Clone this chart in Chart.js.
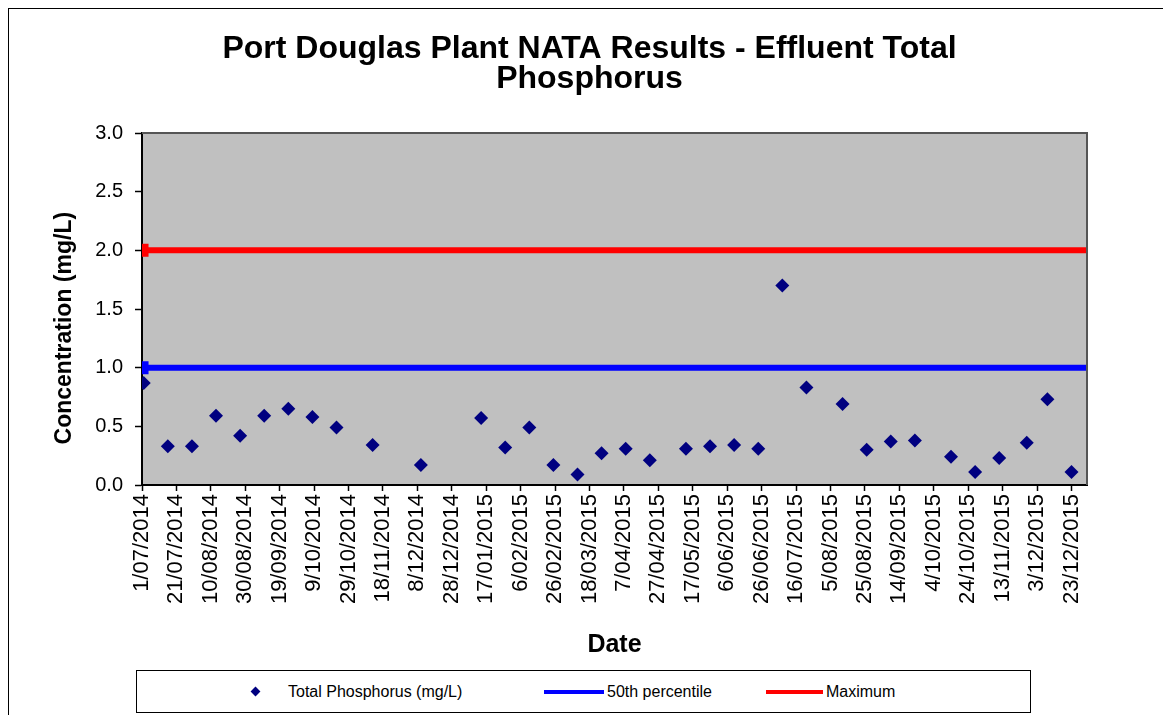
<!DOCTYPE html>
<html>
<head>
<meta charset="utf-8">
<script src="https://cdn.jsdelivr.net/npm/chart.js@4.4.1/dist/chart.umd.min.js"></script>
<style>
    html, body { margin: 0; padding: 0; background: #fff; overflow: hidden; }
    body { width: 1163px; height: 715px; position: relative; font-family: "Liberation Sans", Arial, sans-serif; }
    #frame { position: absolute; left: 8px; top: 8px; width: 1300px; height: 900px; border-left: 1px solid #000; border-top: 1px solid #000; }
    #chart { position: absolute; left: 0; top: 0; }
    #legend { position: absolute; left: 136px; top: 670px; width: 893px; height: 41px; border: 1px solid #000; background: #fff; font-size: 16px; color: #000; }
    .item { position: absolute; top: 0; height: 41px; line-height: 41px; white-space: nowrap; }
    .diamond { position: absolute; width: 7px; height: 7px; background: #000080; transform: rotate(45deg); top: 17px; }
    .swatch { position: absolute; height: 4px; top: 19px; }
</style>
</head>
<body>
<div id="frame"></div>
<canvas id="chart" width="1163" height="715"></canvas>
<div id="legend">
    <span class="diamond" style="left:115px"></span>
    <span class="item" style="left:151px">Total Phosphorus (mg/L)</span>
    <span class="swatch" style="left:407px;width:60px;background:#0000ff"></span>
    <span class="item" style="left:470px">50th percentile</span>
    <span class="swatch" style="left:629px;width:57px;background:#ff0000"></span>
    <span class="item" style="left:689px">Maximum</span>
</div>
<script>
// sample dates and results
const sampleDates = [
    '2/07/2014', '16/07/2014', '30/07/2014', '13/08/2014', '27/08/2014', '10/09/2014',
    '24/09/2014', '8/10/2014', '22/10/2014', '12/11/2014', '10/12/2014', '14/01/2015',
    '28/01/2015', '11/02/2015', '25/02/2015', '11/03/2015', '25/03/2015', '8/04/2015',
    '22/04/2015', '13/05/2015', '27/05/2015', '10/06/2015', '24/06/2015', '8/07/2015',
    '22/07/2015', '12/08/2015', '26/08/2015', '9/09/2015', '23/09/2015', '14/10/2015',
    '28/10/2015', '11/11/2015', '27/11/2015', '9/12/2015', '23/12/2015'
];
const phosphorus = [
    0.87, 0.33, 0.33, 0.59, 0.42, 0.59,
    0.65, 0.58, 0.49, 0.34, 0.17, 0.57,
    0.32, 0.49, 0.17, 0.09, 0.27, 0.31,
    0.21, 0.31, 0.33, 0.34, 0.31, 1.70,
    0.83, 0.69, 0.30, 0.37, 0.38, 0.24,
    0.11, 0.23, 0.36, 0.73, 0.11
];
const percentile50 = 1.0;
const maximumLimit = 2.0;

const xTickLabels = [
    '1/07/2014', '21/07/2014', '10/08/2014', '30/08/2014', '19/09/2014', '9/10/2014',
    '29/10/2014', '18/11/2014', '8/12/2014', '28/12/2014', '17/01/2015', '6/02/2015',
    '26/02/2015', '18/03/2015', '7/04/2015', '27/04/2015', '17/05/2015', '6/06/2015',
    '26/06/2015', '16/07/2015', '5/08/2015', '25/08/2015', '14/09/2015', '4/10/2015',
    '24/10/2015', '13/11/2015', '3/12/2015', '23/12/2015'
];
const xStart = '1/07/2014';
const xEnd = '1/01/2016';
const yTicks = [0, 0.5, 1.0, 1.5, 2.0, 2.5, 3.0];

const DAY = 86400000;
function toMs(s) {
    let p = s.split('/');
    return Date.UTC(+p[2], +p[1] - 1, +p[0]);
}
const baseMs = toMs(xStart);
function toDay(s) { return Math.round((toMs(s) - baseMs) / DAY); }
function dayLabel(v) {
    let d = new Date(baseMs + v * DAY);
    let mm = String(d.getUTCMonth() + 1).padStart(2, '0');
    return d.getUTCDate() + '/' + mm + '/' + d.getUTCFullYear();
}

const xMax = toDay(xEnd);
const points = sampleDates.map((s, i) => ({ x: toDay(s), y: phosphorus[i] }));
const tickDays = xTickLabels.map(toDay);

const font = '"Liberation Sans", Arial, sans-serif';
Chart.defaults.color = '#000';
Chart.defaults.font.family = font;

const plotArea = {
    id: 'plotArea',
    beforeDraw(chart) {
        let a = chart.chartArea, c = chart.ctx;
        c.save();
        c.fillStyle = '#c0c0c0';
        c.fillRect(a.left, a.top, a.right - a.left, a.bottom - a.top);
        c.restore();
    },
    afterDraw(chart) {
        let a = chart.chartArea, c = chart.ctx;
        c.save();
        c.strokeStyle = '#555';
        c.lineWidth = 2;
        c.beginPath();
        c.moveTo(a.left, a.top);
        c.lineTo(a.right, a.top);
        c.lineTo(a.right, a.bottom);
        c.stroke();
        c.restore();
    }
};

let ctx = document.getElementById('chart').getContext('2d');
let chart = new Chart(ctx, {
    type: 'scatter',
    data: {
        datasets: [
            {
                label: 'Total Phosphorus (mg/L)',
                data: points,
                pointStyle: 'rectRot',
                pointRadius: 7,
                backgroundColor: '#000080',
                borderColor: '#000080',
                borderWidth: 0,
                showLine: false,
                order: 0
            },
            {
                label: '50th percentile',
                type: 'line',
                data: [{ x: 0, y: percentile50 }, { x: xMax, y: percentile50 }],
                borderColor: '#0000ff',
                backgroundColor: '#0000ff',
                borderWidth: 6,
                pointStyle: 'rect',
                pointRadius: [5, 0],
                fill: false,
                order: 1
            },
            {
                label: 'Maximum',
                type: 'line',
                data: [{ x: 0, y: maximumLimit }, { x: xMax, y: maximumLimit }],
                borderColor: '#ff0000',
                backgroundColor: '#ff0000',
                borderWidth: 6,
                pointStyle: 'rect',
                pointRadius: [5, 0],
                fill: false,
                order: 2
            }
        ]
    },
    options: {
        responsive: false,
        animation: false,
        layout: { padding: { top: 0, right: 0, bottom: 55, left: 16 } },
        plugins: {
            legend: { display: false },
            tooltip: { enabled: false },
            title: {
                display: true,
                text: ['Port Douglas Plant NATA Results - Effluent Total', 'Phosphorus'],
                font: { size: 32, weight: 'bold', lineHeight: 0.95 },
                color: '#000',
                padding: { top: 34, bottom: 38.2 }
            }
        },
        scales: {
            x: {
                type: 'linear',
                min: 0,
                max: xMax,
                afterBuildTicks: function (scale) {
                    scale.ticks = tickDays.map(v => ({ value: v }));
                },
                afterFit: function (scale) {
                    scale.height = 175;
                    scale.paddingLeft = 0;
                    scale.paddingRight = 76;
                },
                ticks: {
                    autoSkip: false,
                    minRotation: 90,
                    maxRotation: 90,
                    padding: 3,
                    font: { size: 22 },
                    color: '#000',
                    callback: function (v) { return dayLabel(v); }
                },
                grid: { drawOnChartArea: false, color: '#000', tickLength: 6, tickWidth: 1.5 },
                border: { color: '#000', width: 2 },
                title: {
                    display: true,
                    text: 'Date',
                    font: { size: 25, weight: 'bold' },
                    color: '#000',
                    padding: { top: 0, bottom: 0 }
                }
            },
            y: {
                min: 0,
                max: 3,
                afterBuildTicks: function (scale) {
                    scale.ticks = yTicks.map(v => ({ value: v }));
                },
                afterFit: function (scale) {
                    scale.width = 126;
                },
                ticks: {
                    padding: 12,
                    font: { size: 20 },
                    color: '#000',
                    callback: function (v) { return v.toFixed(1); }
                },
                grid: { drawOnChartArea: false, color: '#000', tickLength: 7, tickWidth: 1.5 },
                border: { color: '#000', width: 2 },
                title: {
                    display: true,
                    text: 'Concentration (mg/L)      ',
                    font: { size: 23, weight: 'bold' },
                    color: '#000',
                    padding: { top: 35, bottom: 0 }
                }
            }
        }
    },
    plugins: [plotArea]
});
</script>
</body>
</html>
